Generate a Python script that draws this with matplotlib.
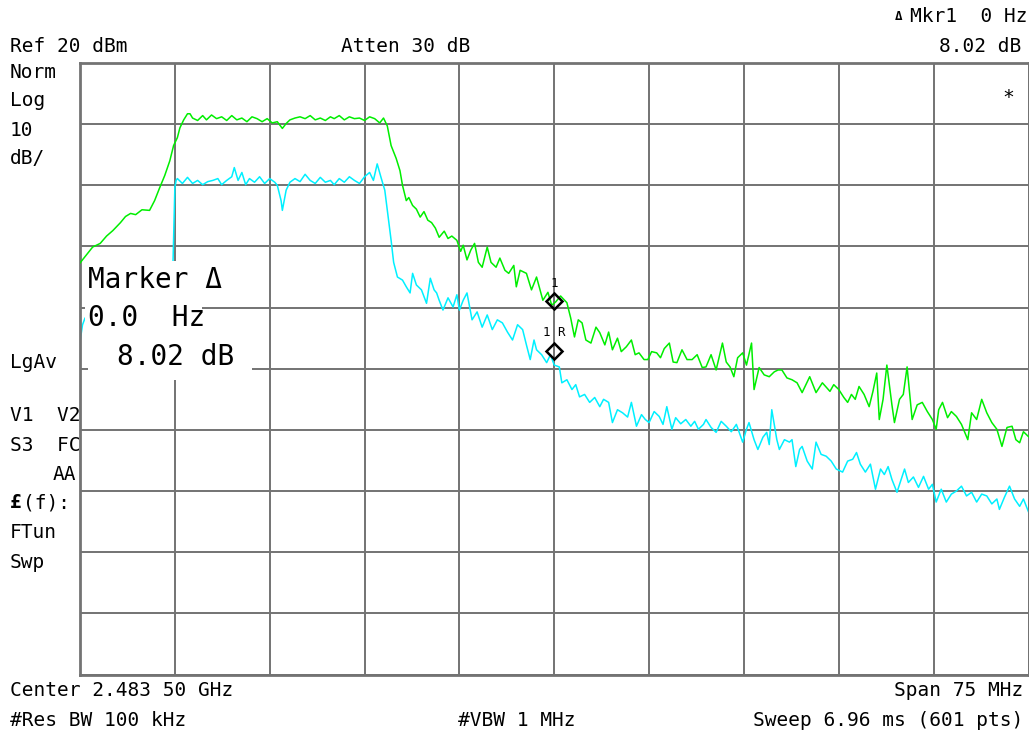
import matplotlib
matplotlib.use('Agg')
import matplotlib.pyplot as plt
from matplotlib.patches import Rectangle

# ---------------- data (frequency in MHz, level in dBm) ----------------
green_freq = [2446.0, 2446.5, 2447.0, 2447.6, 2448.1, 2448.6, 2449.2, 2449.6, 2450.0, 2450.4,
              2450.9, 2451.5, 2451.9, 2452.3, 2452.7, 2453.1, 2453.4, 2453.7, 2453.9, 2454.2,
              2454.5, 2454.7, 2454.9, 2455.3, 2455.7, 2456.0, 2456.4, 2456.8, 2457.2, 2457.6,
              2458.0, 2458.4, 2458.8, 2459.2, 2459.6, 2460.0, 2460.4, 2460.8, 2461.2, 2461.6,
              2462.0, 2462.3, 2462.6, 2463.0, 2463.4, 2463.8, 2464.2, 2464.6, 2465.0, 2465.4,
              2465.8, 2466.1, 2466.5, 2466.9, 2467.3, 2467.7, 2468.1, 2468.5, 2468.9, 2469.3,
              2469.7, 2470.0, 2470.3, 2470.6, 2471.0, 2471.3, 2471.5, 2471.8, 2472.0, 2472.3,
              2472.6, 2472.9, 2473.2, 2473.5, 2473.8, 2474.1, 2474.4, 2474.8, 2475.1, 2475.4,
              2475.8, 2476.1, 2476.3, 2476.6, 2476.9, 2477.2, 2477.5, 2477.8, 2478.2, 2478.5,
              2478.9, 2479.2, 2479.6, 2479.9, 2480.3, 2480.5, 2480.8, 2481.3, 2481.7, 2482.1,
              2482.6, 2483.0, 2483.3, 2483.6, 2484.0, 2484.5, 2484.8, 2485.1, 2485.4, 2485.7,
              2486.0, 2486.4, 2486.8, 2487.1, 2487.5, 2487.8, 2488.1, 2488.5, 2488.8, 2489.2,
              2489.6, 2489.9, 2490.2, 2490.6, 2490.9, 2491.2, 2491.6, 2491.9, 2492.2, 2492.6,
              2492.9, 2493.2, 2493.6, 2494.0, 2494.4, 2494.8, 2495.2, 2495.5, 2495.9, 2496.3,
              2496.8, 2497.1, 2497.4, 2497.7, 2498.0, 2498.4, 2498.7, 2499.1, 2499.3, 2499.7,
              2500.1, 2500.5, 2500.9, 2501.2, 2501.5, 2501.9, 2502.3, 2502.7, 2503.1, 2503.7,
              2504.2, 2504.7, 2505.3, 2505.6, 2506.0, 2506.4, 2506.7, 2507.0, 2507.3, 2507.6,
              2508.0, 2508.4, 2508.7, 2509.0, 2509.2, 2509.5, 2509.8, 2510.2, 2510.4, 2510.8,
              2511.1, 2511.4, 2511.8, 2512.2, 2512.6, 2513.0, 2513.4, 2513.7, 2513.9, 2514.2,
              2514.6, 2514.9, 2515.3, 2515.7, 2516.2, 2516.5, 2516.9, 2517.3, 2517.7, 2518.1,
              2518.5, 2518.9, 2519.3, 2519.7, 2520.0, 2520.3, 2520.6, 2521.0]
green_dbm = [-12.7, -11.4, -10.1, -9.5, -8.3, -7.4, -6.1, -5.1, -4.6, -4.8,
             -4.0, -4.1, -2.5, -0.4, 1.6, 4.0, 6.5, 7.8, 9.4, 10.7,
             11.7, 11.7, 11.0, 10.6, 11.4, 10.7, 11.5, 10.9, 11.2, 10.6,
             11.4, 10.7, 11.0, 10.4, 11.2, 10.9, 10.4, 10.9, 10.2, 10.4,
             9.3, 10.1, 10.7, 11.0, 11.2, 10.9, 11.4, 10.7, 11.0, 10.6,
             11.2, 10.9, 11.4, 10.7, 11.2, 10.9, 11.0, 10.6, 11.2, 10.9,
             10.2, 11.0, 9.7, 6.5, 4.4, 2.4, 0.0, -2.5, -2.0, -3.3,
             -3.9, -5.2, -4.3, -5.7, -6.1, -7.0, -8.5, -7.5, -8.7, -8.3,
             -9.0, -10.8, -9.8, -12.2, -10.6, -9.5, -12.6, -13.4, -10.1, -12.6,
             -13.4, -11.9, -13.9, -14.4, -13.1, -16.6, -13.9, -14.4, -17.1, -15.0,
             -18.8, -17.5, -19.6, -19.1, -18.1, -19.2, -21.7, -24.8, -22.0, -22.5,
             -25.3, -25.8, -23.2, -24.1, -26.1, -24.0, -26.9, -25.0, -27.2, -26.4,
             -25.3, -27.7, -27.4, -28.5, -28.5, -27.2, -27.4, -28.2, -26.7, -25.8,
             -28.9, -29.0, -26.9, -28.5, -28.5, -27.7, -29.8, -29.7, -27.7, -30.2,
             -25.8, -28.9, -29.7, -31.3, -28.2, -27.4, -29.4, -25.8, -33.4, -29.8,
             -31.0, -31.3, -30.5, -30.2, -30.2, -31.5, -31.8, -32.3, -33.9, -31.3,
             -33.9, -32.3, -33.7, -32.6, -33.4, -34.7, -35.5, -34.2, -35.0, -32.9,
             -34.2, -36.2, -33.7, -30.7, -38.3, -35.0, -29.4, -35.9, -38.8, -35.0,
             -34.2, -29.7, -38.3, -35.9, -35.5, -37.0, -38.3, -39.9, -36.7, -35.5,
             -38.0, -37.0, -37.8, -39.1, -41.6, -37.2, -38.3, -35.0, -37.2, -38.8,
             -39.9, -42.7, -39.6, -39.4, -41.6, -42.1, -40.3, -41.1]

cyan_freq = [2446.0, 2446.2, 2446.4, 2447.6, 2449.2, 2450.7, 2452.3, 2453.3, 2453.5, 2453.6,
             2453.7, 2454.1, 2454.5, 2454.9, 2455.3, 2455.7, 2456.1, 2456.5, 2456.9, 2457.2,
             2457.6, 2458.0, 2458.2, 2458.5, 2458.8, 2459.1, 2459.4, 2459.8, 2460.2, 2460.6,
             2461.0, 2461.4, 2461.6, 2461.9, 2462.0, 2462.3, 2462.6, 2463.0, 2463.4, 2463.8,
             2464.2, 2464.6, 2465.0, 2465.4, 2465.8, 2466.1, 2466.5, 2466.9, 2467.3, 2467.7,
             2468.1, 2468.5, 2468.9, 2469.2, 2469.5, 2469.8, 2470.1, 2470.3, 2470.6, 2470.8,
             2471.1, 2471.5, 2471.8, 2472.1, 2472.3, 2472.6, 2473.0, 2473.4, 2473.7, 2474.0,
             2474.2, 2474.4, 2474.7, 2475.1, 2475.5, 2475.8, 2476.0, 2476.3, 2476.6, 2477.0,
             2477.4, 2477.8, 2478.2, 2478.6, 2479.0, 2479.4, 2479.8, 2480.2, 2480.6, 2481.0,
             2481.3, 2481.6, 2481.9, 2482.1, 2482.5, 2482.9, 2483.2, 2483.5, 2483.9, 2484.1,
             2484.5, 2484.9, 2485.2, 2485.5, 2485.9, 2486.3, 2486.7, 2487.1, 2487.4, 2487.8,
             2488.1, 2488.5, 2488.9, 2489.3, 2489.6, 2490.0, 2490.4, 2490.7, 2491.0, 2491.4,
             2491.8, 2492.1, 2492.4, 2492.8, 2493.1, 2493.5, 2493.9, 2494.3, 2494.6, 2494.9,
             2495.3, 2495.5, 2495.9, 2496.3, 2496.7, 2497.1, 2497.5, 2497.9, 2498.4, 2498.7,
             2498.9, 2499.3, 2499.6, 2500.0, 2500.3, 2500.5, 2500.7, 2501.1, 2501.3, 2501.7,
             2502.1, 2502.3, 2502.6, 2502.9, 2503.1, 2503.5, 2503.9, 2504.2, 2504.6, 2505.0,
             2505.4, 2505.8, 2506.3, 2506.7, 2507.1, 2507.4, 2507.7, 2508.1, 2508.5, 2508.9,
             2509.3, 2509.6, 2509.9, 2510.2, 2510.6, 2511.0, 2511.2, 2511.5, 2511.9, 2512.3,
             2512.7, 2513.1, 2513.4, 2513.7, 2514.1, 2514.5, 2514.9, 2515.3, 2515.7, 2516.1,
             2516.5, 2516.9, 2517.3, 2517.7, 2518.1, 2518.5, 2518.7, 2519.1, 2519.5, 2519.9,
             2520.3, 2520.6, 2521.0]
cyan_dbm = [-25.6, -22.8, -21.7, -20.7, -19.6, -18.8, -18.1, -17.1, -0.4, 0.8,
            1.1, 0.3, 1.3, 0.3, 0.8, 0.1, 0.6, 0.8, 1.1, 0.1,
            0.8, 1.4, 2.9, 0.8, 2.1, 0.1, 1.1, 0.5, 1.4, 0.3,
            1.1, 0.5, 0.0, -2.5, -4.1, -0.8, 0.5, 1.1, 0.6, 1.8,
            0.8, 0.3, 1.3, 0.5, 0.8, 0.1, 1.1, 0.5, 1.4, 0.8,
            0.3, 1.4, 2.1, 0.8, 3.5, 1.3, -0.8, -4.1, -9.0, -12.6,
            -15.0, -15.5, -16.6, -17.6, -14.4, -16.3, -17.1, -19.3, -15.2, -17.1,
            -17.6, -18.8, -20.4, -18.4, -19.9, -17.9, -20.4, -18.8, -17.6, -22.0,
            -20.7, -23.2, -21.2, -23.6, -22.0, -22.5, -24.0, -25.3, -22.8, -23.6,
            -26.1, -28.5, -25.3, -26.9, -27.7, -29.0, -27.7, -29.4, -29.7, -32.3,
            -31.8, -33.4, -32.6, -34.6, -34.2, -35.5, -34.7, -36.2, -35.0, -35.5,
            -38.8, -36.7, -37.2, -37.9, -35.5, -39.4, -37.5, -38.3, -38.8, -37.0,
            -37.8, -39.1, -36.2, -39.9, -38.0, -39.0, -38.3, -39.4, -38.6, -39.9,
            -39.1, -38.3, -39.6, -40.4, -38.6, -39.4, -40.3, -39.1, -42.0, -39.9,
            -38.8, -41.6, -43.2, -41.2, -40.4, -42.4, -36.7, -41.6, -43.2, -41.6,
            -42.0, -41.6, -46.0, -43.2, -42.7, -45.1, -46.4, -42.0, -44.0, -44.3,
            -45.1, -46.4, -46.9, -45.1, -44.8, -43.7, -45.6, -46.9, -45.6, -49.7,
            -46.4, -47.3, -46.0, -48.1, -50.2, -47.7, -46.4, -48.6, -47.7, -49.4,
            -47.6, -49.7, -48.9, -51.8, -49.7, -51.8, -50.5, -50.0, -49.2, -50.8,
            -50.2, -51.8, -50.5, -50.8, -52.1, -51.3, -53.0, -51.0, -49.2, -51.3,
            -52.5, -51.3, -53.4]

marker_freq = 2483.5
marker1_dbm = -19.0
marker_ref_dbm = -27.02
center_mhz = 2483.5
span_mhz = 75.0
ref_level = 20.0
db_per_div = 10.0

left_labels = [("Norm", 73), ("Log", 101), ("10", 130), ("dB/", 158), ("LgAv", 362),
               ("V1  V2", 416), ("S3  FC", 445), ("FTun", 533), ("Swp", 562)]

# ---------------- figure ----------------
W, H = 1029, 736
FONT = 'DejaVu Sans Mono'
fig = plt.figure(figsize=(W / 100, H / 100), dpi=100)
fig.patch.set_facecolor('white')

x0, x1, y0, y1 = 80, 1028.5, 63, 674.5
ax = fig.add_axes([x0 / W, 1 - y1 / H, (x1 - x0) / W, (y1 - y0) / H])
start = center_mhz - span_mhz / 2
stop = center_mhz + span_mhz / 2
bottom = ref_level - 10 * db_per_div
ax.set_xlim(start, stop)
ax.set_ylim(bottom, ref_level)
ax.set_xticks([start + i * span_mhz / 10 for i in range(11)])
ax.set_yticks([bottom + i * db_per_div for i in range(11)])
ax.tick_params(length=0, labelbottom=False, labelleft=False)
ax.grid(True, color='#737373', linewidth=1.4)
for s in ax.spines.values():
    s.set_color('#737373')
    s.set_linewidth(2.0)
ax.set_axisbelow(True)

ax.plot(green_freq, green_dbm, color='#00ee00', linewidth=1.1, zorder=3)
ax.plot(cyan_freq, cyan_dbm, color='#00f0ff', linewidth=1.1, zorder=2)

ax.plot([marker_freq], [marker1_dbm], marker='D', markersize=8, mfc='none',
        mec='black', mew=1.8, zorder=5, clip_on=False)
ax.plot([marker_freq], [marker_ref_dbm], marker='D', markersize=8, mfc='none',
        mec='black', mew=1.8, zorder=5, clip_on=False)
ax.annotate("1", (marker_freq, marker1_dbm), xytext=(0, 13), textcoords='offset points',
            ha='center', va='center', fontsize=9, family=FONT, zorder=6)
ax.annotate("1 R", (marker_freq, marker_ref_dbm), xytext=(0, 13), textcoords='offset points',
            ha='center', va='center', fontsize=9, family=FONT, zorder=6)


def T(x, y, s, size=14, ha='left', va='center', **kw):
    fig.text(x / W, 1 - y / H, s, family=FONT, fontsize=size, ha=ha, va=va, zorder=8, **kw)


def box(xa, ya, xb, yb):
    fig.add_artist(Rectangle((xa / W, 1 - yb / H), (xb - xa) / W, (yb - ya) / H,
                             transform=fig.transFigure, facecolor='white',
                             edgecolor='none', zorder=7))


# header
T(10, 46, "Ref 20 dBm")
T(341, 46, "Atten 30 dB")
T(899, 17, "Δ", size=9, weight='bold', ha='center')
T(1027, 17, "Mkr1  0 Hz", ha='right')
T(1021, 46, "8.02 dB", ha='right')
T(1008, 97, "*", size=14, ha='center')

# left column
for s, y in left_labels:
    T(10, y, s)
T(76, 474, "AA", ha='right')
T(10, 503, "£", weight='bold')
T(23, 503, "(f):")

# marker readout box
box(85, 261, 226, 297)
box(85, 297, 202, 336)
box(88, 336, 252, 380)
T(88, 280, "Marker Δ", size=20)
T(88, 318, "0.0  Hz", size=20)
T(117, 357, "8.02 dB", size=20)

# footer
T(10, 690, "Center 2.483 50 GHz")
T(1023, 690, "Span 75 MHz", ha='right')
T(10, 720, "#Res BW 100 kHz")
T(458, 720, "#VBW 1 MHz")
T(1023, 720, "Sweep 6.96 ms (601 pts)", ha='right')

fig.savefig('out.png', dpi=100, facecolor='white')
